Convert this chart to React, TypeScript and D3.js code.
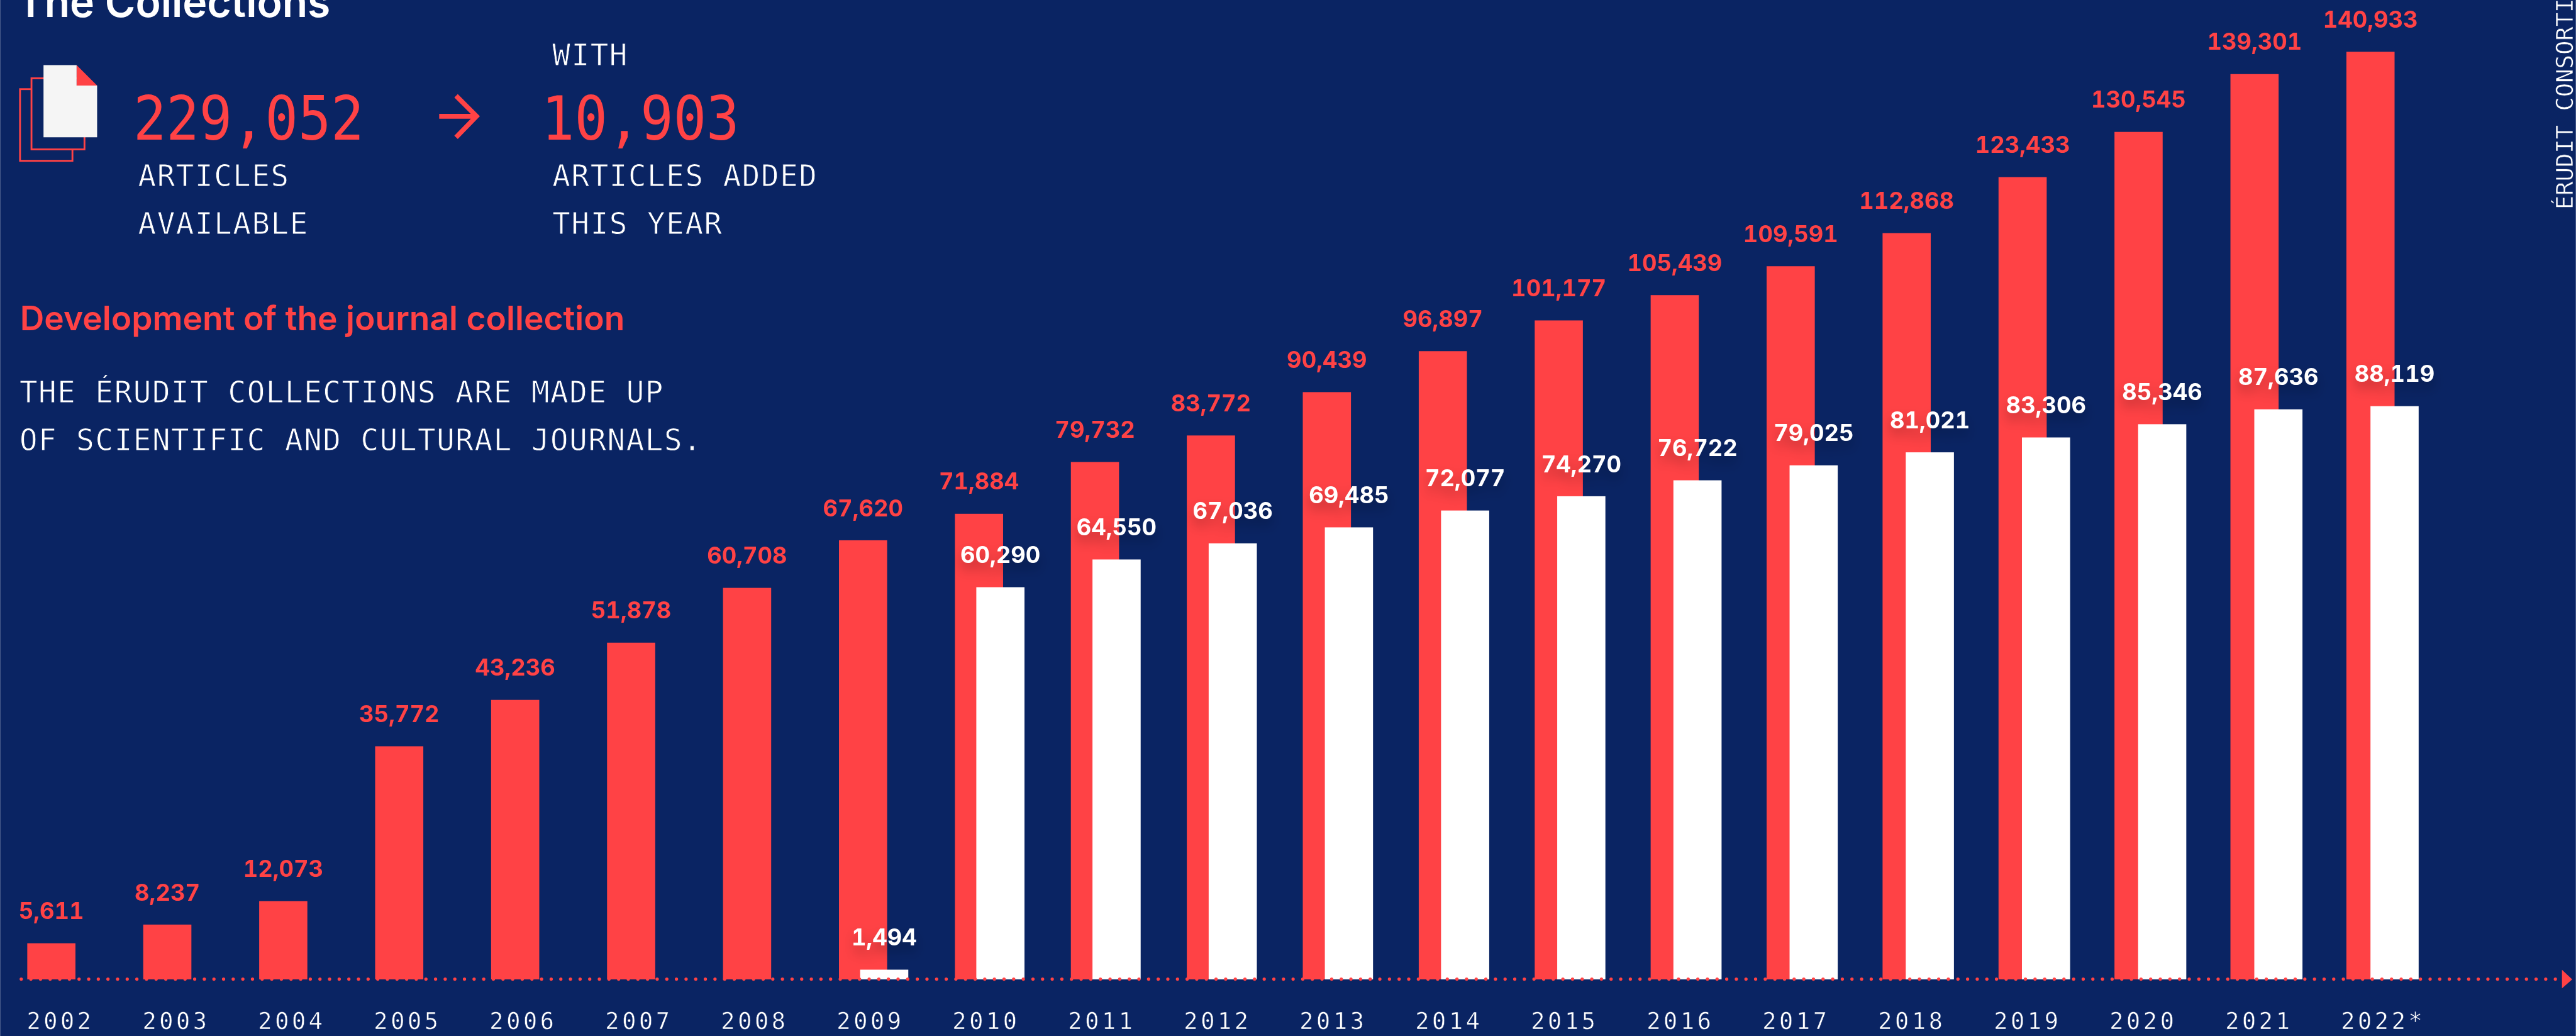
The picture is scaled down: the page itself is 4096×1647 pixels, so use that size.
import React from "react";
import * as d3 from "d3";

// Chart values
const years = ["2002","2003","2004","2005","2006","2007","2008","2009","2010","2011","2012","2013","2014","2015","2016","2017","2018","2019","2020","2021","2022"];
const yearLabels = ["2002","2003","2004","2005","2006","2007","2008","2009","2010","2011","2012","2013","2014","2015","2016","2017","2018","2019","2020","2021","2022*"];
// Values printed over the red bars
const allArticles = [5611,8237,12073,35772,43236,51878,60708,67620,71884,79732,83772,90439,96897,101177,105439,109591,112868,123433,130545,139301,140933];
// Heights of the red bars, in the same unit. They follow the
// printed values closely, except 2018 and 2022, which stand taller than their labels say.
const allArticlesDrawn = [5556,8426,12037,35833,42963,51759,60185,67500,71574,79537,83611,90278,96574,101296,105185,109630,114722,123333,130278,139167,142593];
const culturalYears = ["2009","2010","2011","2012","2013","2014","2015","2016","2017","2018","2019","2020","2021","2022"];
const culturalArticles = [1494,60290,64550,67036,69485,72077,74270,76722,79025,81021,83306,85346,87636,88119];

const fmt = d3.format(",");
const NAVY = "#0A2463";
const RED = "#FF4245";
const WHITE = "#FFFFFF";
const MONO = "'DejaVu Sans Mono', monospace";
const SANS = "Inter, sans-serif";

const W = 4277, H = 1720;
const BASE = 1626;
const BAR_W = 80;
const y = d3.scaleLinear().domain([0, 100000]).range([BASE, BASE - 1080]);
const xRed = d3.scalePoint<string>().domain(years).range([45, 3896]);
const xWhite = d3.scalePoint<string>().domain(culturalYears).range([1428, 3936]);
const xTick = d3.scalePoint<string>().domain(years).range([44, 3887]);

const mono = (x: number, yy: number, s: string) => (
  <text x={x} y={yy} fontFamily={MONO} fontSize={49.5} letterSpacing={1.7} fill={WHITE} stroke={NAVY} strokeWidth={0.9} paintOrder="fill">{s}</text>
);
const valueStyle = { fontVariantNumeric: "tabular-nums" as const };

export default function App() {
  return (
    <svg width={4096} height={1647} viewBox={`0 0 ${W} ${H}`} style={{ position: "fixed", left: 0, top: 0, display: "block" }}>
      <defs>
        <filter id="sh" x="-30%" y="-60%" width="160%" height="260%">
          <feDropShadow dx="0" dy="12" stdDeviation="10" floodColor="#000" floodOpacity="0.28" />
        </filter>
      </defs>
      <rect width={W} height={H} fill={NAVY} />

      {/* header */}
      <text x={28} y={28} fontFamily={SANS} fontWeight={600} fontSize={69} fill={WHITE}>The Collections</text>

      {/* icon */}
      <rect x={33} y={148} width={87} height={119} fill="none" stroke={RED} strokeWidth={3} />
      <rect x={52} y={130} width={88} height={118} fill={NAVY} stroke={RED} strokeWidth={3} />
      <path d="M72 108H127V142H161V228H72Z" fill="#F5F5F5" />
      <path d="M127 108L161 142H127Z" fill={RED} />

      <text transform="translate(221,232) scale(0.9,1)" fontFamily={MONO} fontSize={101} fill={RED}>229,052</text>
      <path d="M729 193H791M757 159L791 193L757 228" fill="none" stroke={RED} strokeWidth={8} />
      <text transform="translate(899,232) scale(0.9,1)" fontFamily={MONO} fontSize={101} fill={RED}>10,903</text>

      {mono(917, 109, "WITH")}
      {mono(229, 309, "ARTICLES")}
      {mono(229, 389, "AVAILABLE")}
      {mono(917, 309, "ARTICLES ADDED")}
      {mono(917, 389, "THIS YEAR")}

      <text x={33} y={548} fontFamily={SANS} fontWeight={600} fontSize={55.7} fill={RED}>Development of the journal collection</text>
      {mono(32, 668, "THE ÉRUDIT COLLECTIONS ARE MADE UP")}
      {mono(32, 748, "OF SCIENTIFIC AND CULTURAL JOURNALS.")}

      <text transform="translate(4272,348) rotate(-90)" fontFamily={MONO} fontSize={39} letterSpacing={-0.1} fill={WHITE} stroke={NAVY} strokeWidth={0.7}>ÉRUDIT CONSORTIUM</text>

      {/* bars */}
      {years.map((yr, i) => (
        <rect key={yr} x={xRed(yr)} y={y(allArticlesDrawn[i])} width={BAR_W} height={BASE - y(allArticlesDrawn[i])} fill={RED} />
      ))}
      {culturalYears.map((yr, i) => (
        <rect key={yr} x={xWhite(yr)} y={y(culturalArticles[i])} width={BAR_W} height={BASE - y(culturalArticles[i])} fill={WHITE} />
      ))}

      {/* axis */}
      <line x1={35} x2={4248} y1={1625.5} y2={1625.5} stroke={RED} strokeWidth={5.5} strokeLinecap="round" strokeDasharray="0 16" />
      <path d="M4254 1610L4271 1626L4254 1641Z" fill={RED} />
      {yearLabels.map((t, i) => (
        <text key={t} x={xTick(years[i])} y={1708} fontFamily={MONO} fontSize={38.5} letterSpacing={4.8} fill={WHITE} stroke={NAVY} strokeWidth={0.6}>{t}</text>
      ))}

      {/* value labels */}
      {years.map((yr, i) => (
        <text key={yr} x={xRed(yr)! + BAR_W / 2} y={y(allArticlesDrawn[i]) - 40} textAnchor="middle" fontFamily={SANS} fontWeight={700} fontSize={38} style={valueStyle} fill={RED}>
          {fmt(allArticles[i])}
        </text>
      ))}
      {culturalYears.map((yr, i) => (
        <text key={yr} x={xWhite(yr)! + BAR_W / 2} y={y(culturalArticles[i]) - 40} textAnchor="middle" fontFamily={SANS} fontWeight={700} fontSize={38} style={valueStyle} fill={WHITE} filter="url(#sh)">
          {fmt(culturalArticles[i])}
        </text>
      ))}
    </svg>
  );
}
